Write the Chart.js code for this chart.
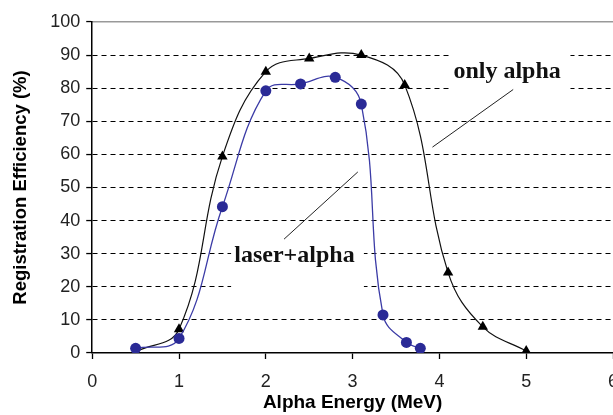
<!DOCTYPE html>
<html>
<head>
<meta charset="utf-8">
<script src="https://cdn.jsdelivr.net/npm/chart.js@4/dist/chart.umd.min.js"></script>
<style>
  html, body { margin: 0; padding: 0; background: #fff; }
  #wrap { width: 613px; height: 415px; }
</style>
</head>
<body>
<div id="wrap"><canvas id="my"></canvas></div>
<script>
// values
var onlyAlphaX = [0.5, 1.0, 1.5, 2.0, 2.5, 3.1, 3.6, 4.1, 4.5, 5.0];
var onlyAlphaY = [0.4, 7.2, 59.4, 85, 89, 90, 81, 24.3, 7.9, 0.6];
var laserAlphaX = [0.5, 1.0, 1.5, 2.0, 2.4, 2.8, 3.1, 3.35, 3.62, 3.78];
var laserAlphaY = [1.4, 4.4, 44.2, 79.2, 81.3, 83.3, 75.2, 11.5, 3.2, 1.4];
var xTicks = [0, 1, 2, 3, 4, 5, 6];
var yTicks = [0, 10, 20, 30, 40, 50, 60, 70, 80, 90, 100];

function pts(xs, ys) {
    return xs.map(function (x, i) { return {x: x, y: ys[i]}; });
}

// text labels with their leader lines, in data units
var notes = [
    {text: 'only alpha', x: 4.78, y: 83.2, box: [4.12, 5.51, 77, 93], line: [4.85, 79.6, 3.92, 62.2]},
    {text: 'laser+alpha', x: 2.33, y: 27.4, box: [1.6, 3.13, 17, 33], line: [3.06, 54.7, 2.21, 34.4]}
];

var notesPlugin = {
    id: 'notes',
    beforeDatasetsDraw: function (chart) {
        var c = chart.ctx, xs = chart.scales.x, ys = chart.scales.y;
        c.save();
        notes.forEach(function (n) {
            var x1 = xs.getPixelForValue(n.box[0]), x2 = xs.getPixelForValue(n.box[1]);
            var y1 = ys.getPixelForValue(n.box[3]), y2 = ys.getPixelForValue(n.box[2]);
            c.fillStyle = '#fff';
            c.fillRect(x1, y1, x2 - x1, y2 - y1);
            c.fillStyle = '#111';
            c.font = 'bold 24px "Liberation Serif", "Times New Roman", serif';
            c.textAlign = 'center';
            c.textBaseline = 'alphabetic';
            c.fillText(n.text, xs.getPixelForValue(n.x), ys.getPixelForValue(n.y));
            c.strokeStyle = '#222';
            c.lineWidth = 1;
            c.beginPath();
            c.moveTo(xs.getPixelForValue(n.line[0]), ys.getPixelForValue(n.line[1]));
            c.lineTo(xs.getPixelForValue(n.line[2]), ys.getPixelForValue(n.line[3]));
            c.stroke();
        });
        c.restore();
    }
};

// let the plot run past the right edge, the "6" is cut like in the picture
function padRight(s) { s.paddingRight = -3; }

var ctx = document.getElementById("my").getContext('2d');
var myChart = new Chart(ctx, {
    type: 'scatter',
    plugins: [notesPlugin],
    data: {
        datasets: [{
            label: 'laser+alpha',
            data: pts(laserAlphaX, laserAlphaY),
            showLine: true,
            tension: 0.4,
            borderColor: '#3b3ba6',
            backgroundColor: '#2a2a96',
            borderWidth: 1.3,
            pointStyle: 'circle',
            pointRadius: 5.5,
            pointBorderWidth: 0
        }, {
            label: 'only alpha',
            data: pts(onlyAlphaX, onlyAlphaY),
            showLine: true,
            tension: 0.4,
            borderColor: '#111',
            backgroundColor: '#000',
            borderWidth: 1.2,
            pointStyle: 'triangle',
            pointRadius: 6,
            pointBorderWidth: 0
        }]
    },
    options: {
        responsive: true,
        maintainAspectRatio: false,
        animation: false,
        events: [],
        layout: {autoPadding: false, padding: {top: 14, right: -3, bottom: 1, left: 10}},
        plugins: {
            legend: {display: false},
            tooltip: {enabled: false}
        },
        scales: {
            x: {
                type: 'linear',
                min: 0,
                max: 6,
                afterBuildTicks: function (s) { s.ticks = xTicks.map(function (v) { return {value: v}; }); },
                afterFit: padRight,
                grid: {drawOnChartArea: false, tickLength: 6, tickColor: '#000', tickWidth: 1.3},
                border: {color: '#000', width: 1.5},
                ticks: {color: '#222', padding: 14, font: {family: '"Liberation Sans", Arial', size: 18, lineHeight: 1}},
                title: {
                    display: true,
                    text: 'Alpha Energy (MeV)',
                    color: '#000',
                    padding: {top: -12, bottom: 2},
                    font: {family: '"Liberation Sans", Arial', size: 19, weight: 'bold', lineHeight: 1}
                }
            },
            x2: {
                type: 'linear',
                position: 'top',
                min: 0,
                max: 6,
                afterFit: padRight,
                grid: {display: false},
                ticks: {display: false},
                border: {color: '#999', width: 1.5}
            },
            y: {
                min: 0,
                max: 100,
                afterBuildTicks: function (s) { s.ticks = yTicks.map(function (v) { return {value: v}; }); },
                afterFit: padRight,
                grid: {
                    color: function (c) { return (c.tick && (c.tick.value === 0 || c.tick.value === 100)) ? 'rgba(0,0,0,0)' : '#000'; },
                    lineWidth: 1.1,
                    tickLength: 6,
                    tickColor: '#000',
                    tickWidth: 1.3,
                    tickBorderDash: []
                },
                border: {color: '#000', width: 1.5, dash: [5, 4]},
                ticks: {color: '#222', padding: 6, font: {family: '"Liberation Sans", Arial', size: 18}},
                title: {
                    display: true,
                    text: 'Registration Efficiency (%)',
                    color: '#000',
                    padding: {top: 0, bottom: 12},
                    font: {family: '"Liberation Sans", Arial', size: 18.5, weight: 'bold'}
                }
            }
        }
    }
});
</script>
</body>
</html>
